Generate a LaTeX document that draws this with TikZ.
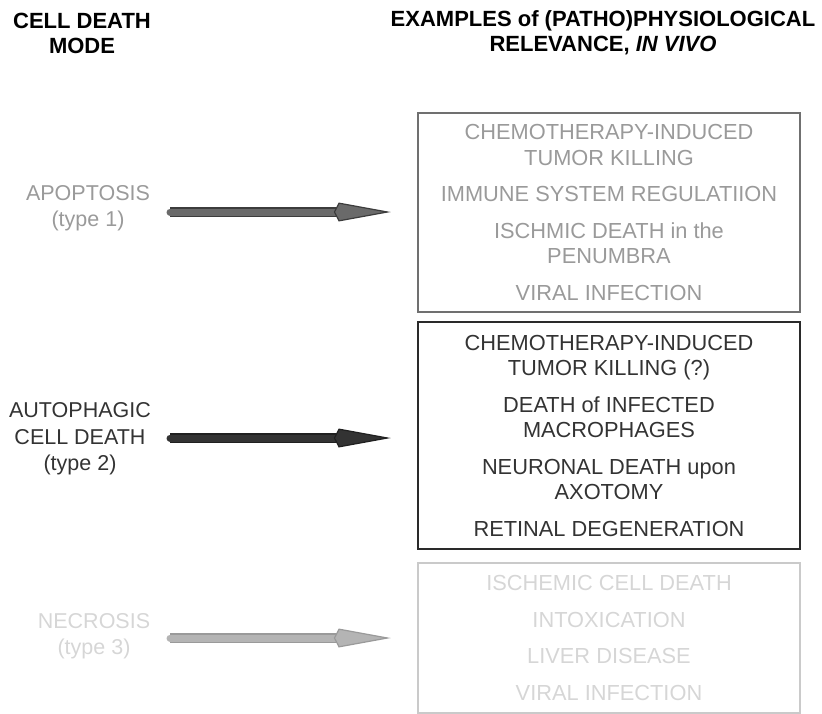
\documentclass[tikz,border=0pt]{standalone}
\usepackage{fontspec}
\setmainfont{Liberation Sans}
\usepackage{tikz}
\usetikzlibrary{arrows.meta, positioning, calc}
\usepackage{xcolor}
\definecolor{txtA}{HTML}{9A9A9A}
\definecolor{txtB}{HTML}{333333}
\definecolor{txtC}{HTML}{D6D6D6}
\definecolor{boxA}{HTML}{707070}
\definecolor{boxB}{HTML}{2A2A2A}
\definecolor{boxC}{HTML}{CACACA}
\definecolor{arrA}{HTML}{6A6A6A}
\definecolor{edgeA}{HTML}{3C3C3C}
\definecolor{arrB}{HTML}{333333}
\definecolor{edgeB}{HTML}{202020}
\definecolor{arrC}{HTML}{B4B4B4}
\definecolor{edgeC}{HTML}{9A9A9A}
\tikzstyle{head} = [align=center, font=\bfseries\fontsize{22}{25}\selectfont]
\tikzstyle{mode} = [align=center, font=\fontsize{21.5}{26.5}\selectfont]
\tikzstyle{examples} = [rectangle, line width=2.5pt, minimum width=382pt, align=center, font=\fontsize{21.8}{25.5}\selectfont]
\tikzstyle{modearrow} = [line width=7pt, line cap=round, shorten >=26pt]

\begin{document}
\begin{tikzpicture}[x=1pt, y=-1pt]
  \useasboundingbox (0,0) rectangle (822,713);

  \node[head] (hmode) at (82,33) {CELL DEATH\\MODE};
  \node[head] (hrel) at (603,33) {EXAMPLES of (PATHO)PHYSIOLOGICAL\\RELEVANCE, \textit{IN VIVO}};

  \node[examples, draw=boxA, text=txtA, minimum height=199pt] (ex1) at (609,212.5)
    {CHEMOTHERAPY-INDUCED\\TUMOR KILLING\\[11pt]
     IMMUNE SYSTEM REGULATIION\\[11pt]
     ISCHMIC DEATH in the\\PENUMBRA\\[11pt]
     VIRAL INFECTION};
  \node[examples, draw=boxB, text=txtB, minimum height=227pt] (ex2) at (609,435.5)
    {CHEMOTHERAPY-INDUCED\\TUMOR KILLING (?)\\[11pt]
     DEATH of INFECTED\\MACROPHAGES\\[11pt]
     NEURONAL DEATH upon\\AXOTOMY\\[11pt]
     RETINAL DEGENERATION};
  \node[examples, draw=boxC, text=txtC, minimum height=150pt] (ex3) at (609,638)
    {ISCHEMIC CELL DEATH\\[11pt]
     INTOXICATION\\[11pt]
     LIVER DISEASE\\[11pt]
     VIRAL INFECTION};

  \node[mode, text=txtA] (apop) at (88,208) {APOPTOSIS\\(type 1)};
  \node[mode, text=txtB] (auto) at (80,439) {AUTOPHAGIC\\CELL DEATH\\(type 2)};
  \node[mode, text=txtC] (necr) at (94,636) {NECROSIS\\(type 3)};

  % arrows from mode to examples
  \coordinate (t1) at (170,212);
  \coordinate (t2) at (170,438);
  \coordinate (t3) at (170,638);
  \draw[modearrow, draw=arrA, preaction={draw=edgeA, line width=10pt, arrows=-, shorten >=76pt},
    -{Kite[length=57pt, width=19pt, inset=5pt, line width=1.2pt, color=edgeA, fill=arrA]}] (t1) -- (ex1.west |- t1);
  \draw[modearrow, draw=arrB, preaction={draw=edgeB, line width=10pt, arrows=-, shorten >=76pt},
    -{Kite[length=57pt, width=19pt, inset=5pt, line width=1.2pt, color=edgeB, fill=arrB]}] (t2) -- (ex2.west |- t2);
  \draw[modearrow, draw=arrC, preaction={draw=edgeC, line width=10pt, arrows=-, shorten >=76pt},
    -{Kite[length=57pt, width=19pt, inset=5pt, line width=1.2pt, color=edgeC, fill=arrC]}] (t3) -- (ex3.west |- t3);
\end{tikzpicture}
\end{document}
